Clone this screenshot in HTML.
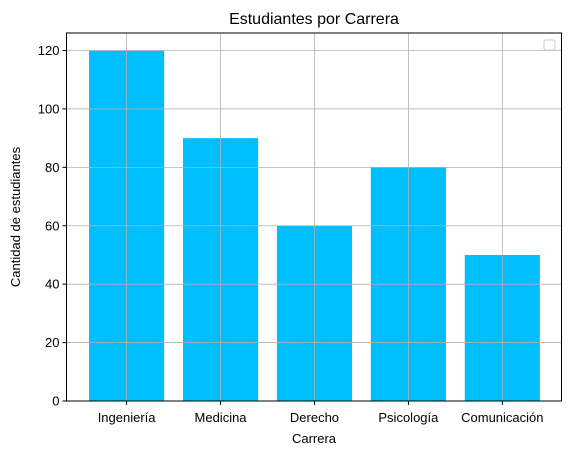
<!DOCTYPE html>
<html><head><meta charset="utf-8"><style>
body{margin:0;background:#fff;}
svg{display:block;font-family:"Liberation Sans","DejaVu Sans",sans-serif;}
</style></head><body>
<svg id="chart" width="571" height="455">
<rect width="571" height="455" fill="#fff"/>
<g id="bars"></g><g id="grid"></g><g id="axes"></g>
<text x="314" y="24" font-size="16" text-anchor="middle">Estudiantes por Carrera</text>
<text x="314" y="443" font-size="13" text-anchor="middle">Carrera</text>
<text x="0" y="0" font-size="13" text-anchor="middle" transform="translate(20,217) rotate(-90)">Cantidad de estudiantes</text>
<rect x="544" y="40" width="11" height="10" fill="#fff" stroke="#ccc" rx="2"/>
</svg>
<script>
const categories=["Ingeniería","Medicina","Derecho","Psicología","Comunicación"];
const values=[120,90,60,80,50];
const yTicks=[0,20,40,60,80,100,120];
const L=66.5,R=561.5,T=33,B=401,yMax=126;
const xMin=-0.64,xMax=4.63;
const xS=i=>L+(i-xMin)/(xMax-xMin)*(R-L);
const yS=v=>B-v/yMax*(B-T);
const NS="http://www.w3.org/2000/svg";
function mk(p,t,a){const e=document.createElementNS(NS,t);for(const k in a)e.setAttribute(k,a[k]);document.getElementById(p).appendChild(e);return e;}
const bw=0.8/(xMax-xMin)*(R-L);
categories.forEach((c,i)=>{
 const b=mk("bars","rect",{x:xS(i)-bw/2,y:yS(values[i]),width:bw,height:B-yS(values[i]),fill:"#00bfff"});
 
 
 const g=mk("grid","line",{x1:xS(i),x2:xS(i),y1:T,y2:B,stroke:"#b0b0b0","stroke-width":0.8});
 
 
 const tk=mk("axes","line",{x1:xS(i),x2:xS(i),y1:B,y2:B+4,stroke:"#000"});
 
 
 const t=mk("axes","text",{x:xS(i),y:B+21,"font-size":13,"text-anchor":"middle"});
 t.textContent=c;
 
 
});
yTicks.forEach(v=>{
 const g=mk("grid","line",{x1:L,x2:R,y1:yS(v),y2:yS(v),stroke:"#b0b0b0","stroke-width":0.8});
 
 
 const tk=mk("axes","line",{x1:L-4,x2:L,y1:yS(v),y2:yS(v),stroke:"#000"});
 
 
 const t=mk("axes","text",{x:L-7,y:yS(v)+4.5,"font-size":13,"text-anchor":"end"});
 t.textContent=v;
 
 
});
const f=mk("axes","rect",{x:L,y:T,width:R-L,height:B-T,fill:"none",stroke:"#000","stroke-width":1});


</script>
</body></html>
